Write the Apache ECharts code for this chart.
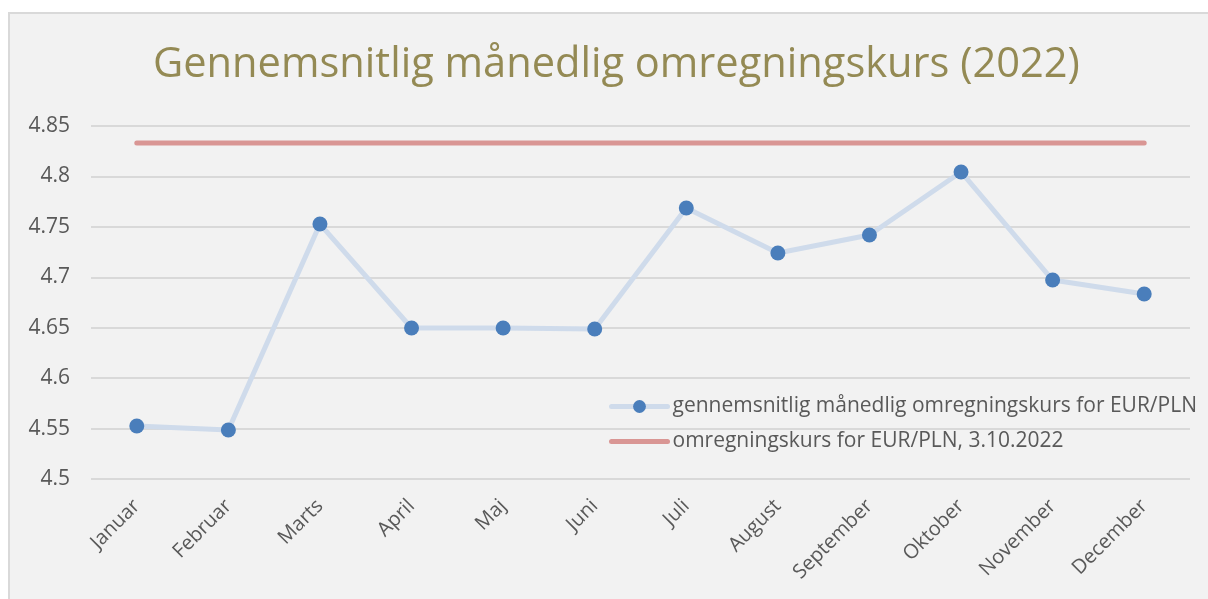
<!DOCTYPE html>
<html><head><meta charset="utf-8">
<script src="https://cdn.jsdelivr.net/npm/echarts@6/dist/echarts.min.js"></script>
<style>
html,body{margin:0;padding:0;background:#fff;overflow:hidden;width:1208px;height:599px;}
#frame{position:absolute;left:8px;top:12px;width:1300px;height:700px;background:#f2f2f2;border:2px solid #d9d9d9;}
#c{position:absolute;left:0;top:0;width:1208px;height:599px;}
</style></head>
<body><div id="frame"></div><div id="c"></div>
<script>
const titleText = 'Gennemsnitlig månedlig omregningskurs (2022)';
const months = ['Januar','Februar','Marts','April','Maj','Juni','Juli','August','September','Oktober','November','December'];
const monthlyName = 'gennemsnitlig månedlig omregningskurs for EUR/PLN';
const monthlyRate = [4.5525, 4.5486, 4.7528, 4.6497, 4.6497, 4.6487, 4.7687, 4.7241, 4.7419, 4.8044, 4.6973, 4.6834];
const spotName = 'omregningskurs for EUR/PLN, 3.10.2022';
const spotRate = [4.8331, 4.8331, 4.8331, 4.8331, 4.8331, 4.8331, 4.8331, 4.8331, 4.8331, 4.8331, 4.8331, 4.8331];
const yMin = 4.5, yMax = 4.85, yStep = 0.05;

const chart = echarts.init(document.getElementById('c'), null, {renderer:'canvas'});
const font = 'Open Sans';
chart.setOption({
  animation:false,
  backgroundColor:'transparent',
  title:{text:titleText,left:148,top:39,textStyle:{fontFamily:font,fontSize:41.6,fontWeight:'normal',color:'#948a54'}},
  grid:{left:91,top:126,width:1099,height:353,containLabel:false},
  legend:{
    orient:'vertical',left:604,top:391,itemGap:14,itemWidth:56,itemHeight:16,
    textStyle:{fontFamily:font,fontSize:21,color:'#595959'},
    data:[
      {name:monthlyName, lineStyle:{width:5,color:'#cfdbeb'}},
      {name:spotName, lineStyle:{width:5,color:'#d99694'}, itemStyle:{opacity:0}}
    ]
  },
  xAxis:{type:'category',data:months,boundaryGap:true,
    axisLine:{show:false},axisTick:{show:false},
    axisLabel:{rotate:45,margin:24,interval:0,fontFamily:font,fontSize:20,color:'#595959'}},
  yAxis:{type:'value',min:yMin,max:yMax,interval:yStep,
    axisLine:{show:false},axisTick:{show:false},
    splitLine:{lineStyle:{color:'#d9d9d9',width:2}},
    axisLabel:{margin:21,fontFamily:font,fontSize:21,color:'#595959',formatter:v=>String(+v.toFixed(2))}},
  series:[
    {name:monthlyName,type:'line',data:monthlyRate,symbol:'circle',symbolSize:15,
      lineStyle:{color:'#cfdbeb',width:5,cap:'round',join:'round'},
      itemStyle:{color:'#4a7ebb'},z:3},
    {name:spotName,type:'line',data:spotRate,symbol:'none',
      lineStyle:{color:'#d99694',width:5,cap:'round'},
      itemStyle:{color:'#d99694'},z:2}
  ]
});
</script></body></html>
